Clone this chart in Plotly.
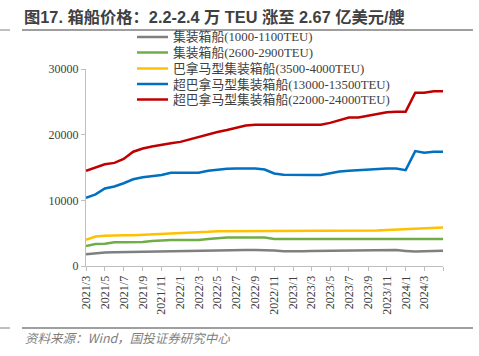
import pandas as pd
import plotly.graph_objects as go

months = pd.date_range("2021-03-01", "2024-05-01", freq="MS")

series_names = [
    "集装箱船(1000-1100TEU)",
    "集装箱船(2600-2900TEU)",
    "巴拿马型集装箱船(3500-4000TEU)",
    "超巴拿马型集装箱船(13000-13500TEU)",
    "超巴拿马型集装箱船(22000-24000TEU)",
]
colors = ["#7f7f7f", "#70ad47", "#ffc000", "#0070c0", "#c00000"]

teu_1000 = [1800, 1950, 2050, 2100, 2130, 2170, 2200, 2230, 2260, 2280,
            2300, 2330, 2380, 2420, 2430, 2430, 2430, 2430, 2430, 2430,
            2350, 2250, 2200, 2230, 2280, 2300, 2320, 2330, 2350, 2380,
            2400, 2430, 2430, 2430, 2300, 2200, 2250, 2300, 2330]
teu_2600 = [3050, 3350, 3400, 3600, 3600, 3600, 3650, 3800, 3900, 3950,
            3950, 3950, 3950, 4100, 4250, 4350, 4350, 4350, 4350, 4350,
            4100, 4100, 4100, 4100, 4100, 4100, 4100, 4100, 4100, 4100,
            4100, 4100, 4100, 4100, 4100, 4100, 4100, 4100, 4100]
teu_3500 = [4000, 4500, 4600, 4700, 4700, 4700, 4750, 4800, 4900, 4950,
            5000, 5050, 5100, 5200, 5300, 5300, 5300, 5300, 5300, 5300,
            5300, 5300, 5300, 5300, 5300, 5300, 5300, 5300, 5300, 5300,
            5300, 5400, 5500, 5550, 5600, 5650, 5700, 5800, 5850]
teu_13000 = [10400, 10900, 11800, 12100, 12600, 13200, 13500, 13700, 13850, 14200,
             14200, 14200, 14200, 14500, 14700, 14800, 14850, 14850, 14850, 14700,
             14100, 13900, 13850, 13850, 13850, 13850, 14100, 14400, 14500, 14600,
             14700, 14850, 14850, 14850, 14600, 17500, 17250, 17400, 17400]
teu_22000 = [14500, 15000, 15500, 15700, 16300, 17400, 17900, 18200, 18500, 18700,
             18900, 19300, 19700, 20000, 20400, 20700, 21000, 21400, 21500, 21500,
             21500, 21500, 21500, 21500, 21500, 21500, 21800, 22200, 22600, 22600,
             22900, 23200, 23400, 23500, 23500, 26400, 26400, 26600, 26600]
all_values = [teu_1000, teu_2600, teu_3500, teu_13000, teu_22000]

tick_dates = pd.date_range("2021-03-01", "2024-05-01", freq="2MS")
tick_labels = [f"{d.year}/{d.month}" for d in tick_dates[:-1]] + [""]
y_ticks = [0, 10000, 20000, 30000]
y_labels = ["0", "10000", "20000", "30000"]

W, H = 479, 356
L, R, T, B = 86, 36, 69, 90
pw, ph = W - L - R, H - T - B

def px(x):
    return (x - L) / pw

def py(y):
    return (H - B - y) / ph

fig = go.Figure()
for name, vals, c in zip(series_names, all_values, colors):
    fig.add_trace(go.Scatter(x=months, y=vals, mode="lines", name=name,
                             line=dict(color=c, width=2.5), showlegend=False))

serif = "Liberation Serif, Times New Roman, Noto Sans CJK SC, serif"
shapes = []
annotations = []
# manual legend
leg_y = [37, 52.5, 68.5, 84, 99.5]
for name, c, yy in zip(series_names, colors, leg_y):
    shapes.append(dict(type="line", xref="paper", yref="paper",
                       x0=px(137), x1=px(168), y0=py(yy), y1=py(yy),
                       line=dict(color=c, width=2.5)))
    annotations.append(dict(text=name, xref="paper", yref="paper",
                            x=px(171), y=py(yy), xanchor="left", yanchor="middle",
                            showarrow=False,
                            font=dict(family=serif, size=12.8, color="#404040")))
# rules
for yy in (30, 328):
    shapes.append(dict(type="line", xref="paper", yref="paper",
                       x0=px(22), x1=px(473), y0=py(yy), y1=py(yy),
                       line=dict(color="#404040", width=1.2)))
    shapes.append(dict(type="line", xref="paper", yref="paper",
                       x0=px(0), x1=px(10), y0=py(yy), y1=py(yy),
                       line=dict(color="#808080", width=1)))
annotations.append(dict(text="资料来源：Wind，国投证券研究中心", xref="paper", yref="paper",
                        x=px(23), y=py(337), xanchor="left", yanchor="middle",
                        showarrow=False,
                        font=dict(family="Noto Sans CJK SC", size=12.5,
                                  color="#7f7f7f", style="italic")))

fig.update_layout(
    width=W, height=H,
    margin=dict(l=L, r=R, t=T, b=B),
    paper_bgcolor="white", plot_bgcolor="white",
    title=dict(text="<b>图17. 箱船价格：2.2-2.4 万 TEU 涨至 2.67 亿美元/艘</b>",
               xref="container", yref="container", x=24 / W, y=1 - 17 / H,
               xanchor="left", yanchor="middle",
               font=dict(family="Liberation Sans, Noto Sans CJK SC", size=16.3,
                         color="#404040")),
    shapes=shapes, annotations=annotations,
    xaxis=dict(type="date", range=[months[0], months[-1]],
               tickvals=list(tick_dates), ticktext=tick_labels,
               tickangle=-90, ticks="outside", ticklen=4, tickcolor="#bfbfbf",
               showline=True, linecolor="#bfbfbf", linewidth=1,
               showgrid=False, zeroline=False,
               tickfont=dict(family=serif, size=12, color="#404040")),
    yaxis=dict(range=[0, 30000], tickvals=y_ticks, ticktext=y_labels,
               ticks="outside", ticklen=4, tickcolor="#bfbfbf",
               showline=True, linecolor="#bfbfbf", linewidth=1,
               showgrid=False, zeroline=False,
               tickfont=dict(family=serif, size=12, color="#404040")),
)

fig.write_html("out.html", config={"displayModeBar": False},
               post_script="document.body.style.margin='0';document.body.style.padding='0';")
